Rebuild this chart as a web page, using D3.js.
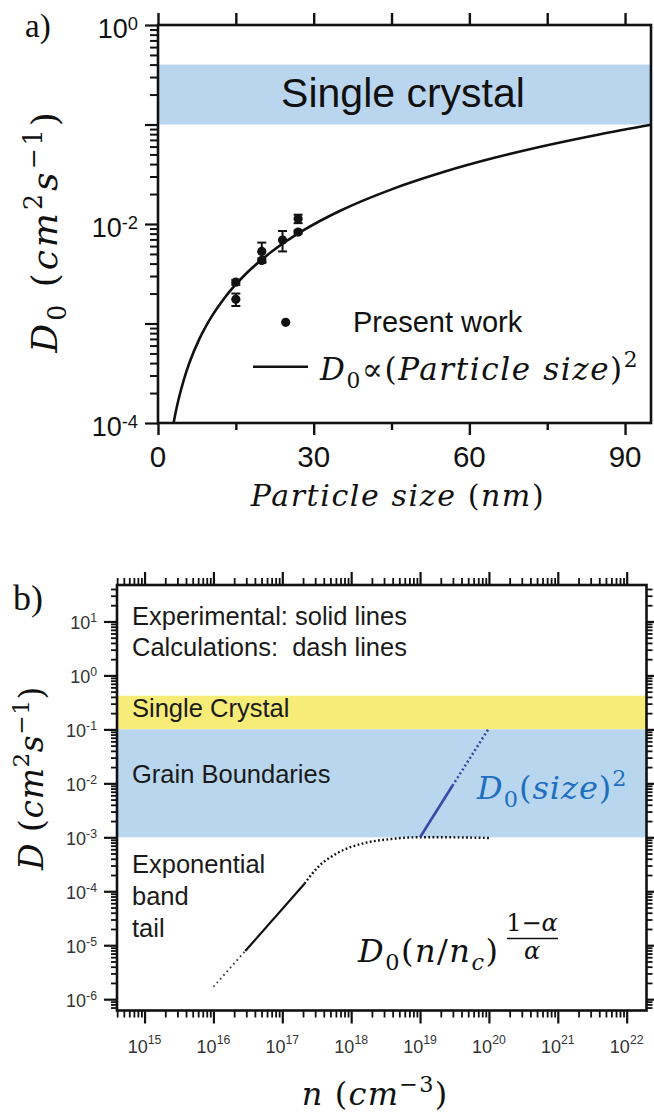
<!DOCTYPE html>
<html>
<head>
<meta charset="utf-8">
<script src="https://cdn.jsdelivr.net/npm/d3@7"></script>
<style>
  html, body { margin: 0; padding: 0; background: #fff; }
  svg { display: block; }
  text { white-space: pre; }
</style>
</head>
<body>
<svg id="fig" width="654" height="1113"></svg>
<script>
// ---------------- Panel a: diffusion coefficient vs particle size ----------------
const sizeNm   = [15, 15, 20, 20, 24, 27, 27];
const diffA    = [2.6e-3, 1.75e-3, 5.3e-3, 4.3e-3, 6.9e-3, 8.3e-3, 1.13e-2];
const diffAErr = [0.15e-3, 0.25e-3, 1.2e-3, 0.2e-3, 1.6e-3, 0.3e-3, 1.1e-3];

// D0 ∝ (particle size)^2 trend line
const fitSize = [3, 3.5, 4, 5, 6, 8, 10, 13, 17, 22, 28, 35, 45, 55, 65, 75, 85, 95];
const fitD    = [1.0e-4, 1.35e-4, 1.76e-4, 2.75e-4, 3.96e-4, 7.04e-4, 1.1e-3, 1.86e-3, 3.18e-3,
                 5.32e-3, 8.62e-3, 1.35e-2, 2.23e-2, 3.33e-2, 4.65e-2, 6.19e-2, 7.95e-2, 9.93e-2];

const bandSingleA = [0.1, 0.4];
const xTicksA      = [0, 30, 60, 90];
const xMinorA      = [15, 45, 75];
const yLabelExpA   = [0, -2, -4];

// ---------------- Panel b: diffusion coefficient vs carrier density ----------------
const bandSingleB = [0.1, 0.42];
const bandGrainB  = [1e-3, 0.1];

// exponential band tail: calculated (dotted) and experimental (solid) parts
const tailCalcN  = [1e16, 2.9e16];
const tailCalcD  = [1.7e-6, 7.8e-6];
const tailExpN   = [2.9e16, 2.1e17];
const tailExpD   = [7.8e-6, 1.38e-4];
const tailKneeN  = [2.1e17, 3.2e17, 6.3e17, 1.55e18, 3.8e18, 9.1e18, 2.5e19, 1e20];
const tailKneeD  = [1.38e-4, 2.7e-4, 5.1e-4, 7.8e-4, 9.3e-4, 1.0e-3, 1.0e-3, 0.97e-3];

// grain boundary regime, D0 (size)^2
const gbExpN  = [1e19, 2.95e19];
const gbExpD  = [1e-3, 9e-3];
const gbCalcN = [2.95e19, 1e20];
const gbCalcD = [9e-3, 1.05e-1];

const xLabelExpB = [15, 16, 17, 18, 19, 20, 21, 22];
const yLabelExpB = [-6, -5, -4, -3, -2, -1, 0, 1];

// ---------------- shared helpers ----------------
const SANS = "'Liberation Sans', Arial, sans-serif";
const MATH = "'DejaVu Serif', serif";
const SERIF = "'Liberation Serif', 'Times New Roman', serif";
const INK = "#111";
const svg = d3.select("#fig");

function logTicks(domain) {
  const lo = Math.floor(Math.log10(domain[0])), hi = Math.ceil(Math.log10(domain[1]));
  const major = [], minor = [];
  for (let e = lo; e <= hi; e++) {
    for (let m = 1; m <= 9; m++) {
      const v = m * Math.pow(10, e);
      if (v < domain[0] * 0.999 || v > domain[1] * 1.001) continue;
      (m === 1 ? major : minor).push(v);
    }
  }
  return { major, minor };
}

function tickAxis(g, axis, tx, ty, width) {
  const a = g.append("g").attr("transform", `translate(${tx},${ty})`).call(axis);
  a.select(".domain").remove();
  a.selectAll(".tick line").attr("stroke", INK).attr("stroke-width", width);
  a.selectAll(".tick text").remove();
  return a;
}

// text made of italic / upright / sub / superscript runs
function mathText(sel, parts, size, spacing) {
  const t = sel.append("text").attr("font-family", MATH).attr("font-size", size)
    .attr("letter-spacing", spacing || 0);
  let off = 0;
  parts.forEach(p => {
    let target = 0, fs = size;
    if (p.sub) { target = 0.26 * size; fs = 0.7 * size; }
    if (p.sup) { target = -0.42 * size; fs = 0.7 * size; }
    t.append("tspan").text(p.t)
      .attr("font-size", fs)
      .attr("dy", target - off)
      .attr("font-style", p.up ? "normal" : "italic");
    off = target;
  });
  return t;
}

function powerLabel(g, x, y, exp, size, anchor, supShift, color) {
  const t = g.append("text").attr("x", x).attr("y", y)
    .attr("font-family", SANS).attr("font-size", size)
    .attr("text-anchor", anchor).attr("fill", color || INK);
  t.append("tspan").text("10");
  t.append("tspan").text(String(exp)).attr("font-size", size * 0.68).attr("dy", -supShift);
  return t;
}

// ================= Panel a =================
const A = { left: 158, right: 651, top: 25, bottom: 423 };
const xA = d3.scaleLinear().domain([0, 95]).range([A.left, A.right]);
const yA = d3.scaleLog().domain([1e-4, 1]).range([A.bottom, A.top]);
const ga = svg.append("g");

ga.append("rect")
  .attr("x", xA(0)).attr("width", xA(95) - xA(0))
  .attr("y", yA(bandSingleA[1])).attr("height", yA(bandSingleA[0]) - yA(bandSingleA[1]))
  .attr("fill", "#bad6ef");
ga.append("text").text("Single crystal")
  .attr("x", 403).attr("y", 107).attr("text-anchor", "middle")
  .attr("font-family", SANS).attr("font-size", 41).attr("fill", INK);

const fitLine = d3.line().x(d => xA(d[0])).y(d => yA(d[1])).curve(d3.curveMonotoneX);
ga.append("path").datum(d3.zip(fitSize, fitD)).attr("d", fitLine)
  .attr("fill", "none").attr("stroke", INK).attr("stroke-width", 2.6);

const pts = d3.zip(sizeNm, diffA, diffAErr);
const eb = ga.append("g").attr("stroke", INK).attr("stroke-width", 2);
pts.forEach(([s, d, e]) => {
  const x = xA(s), y1 = yA(d - e), y2 = yA(d + e);
  eb.append("line").attr("x1", x).attr("x2", x).attr("y1", y1).attr("y2", y2);
  eb.append("line").attr("x1", x - 4.5).attr("x2", x + 4.5).attr("y1", y1).attr("y2", y1);
  eb.append("line").attr("x1", x - 4.5).attr("x2", x + 4.5).attr("y1", y2).attr("y2", y2);
});
ga.selectAll("circle.pt").data(pts).join("circle").attr("class", "pt")
  .attr("cx", d => xA(d[0])).attr("cy", d => yA(d[1])).attr("r", 4.6).attr("fill", INK);

const tA = logTicks(yA.domain());
tickAxis(ga, d3.axisLeft(yA).tickValues(tA.major).tickSize(13).tickFormat(""), A.left, 0, 2.2);
tickAxis(ga, d3.axisLeft(yA).tickValues(tA.minor).tickSize(8).tickFormat(""), A.left, 0, 2);
tickAxis(ga, d3.axisBottom(xA).tickValues(xTicksA).tickSize(12).tickFormat(""), 0, A.bottom, 2.4);
tickAxis(ga, d3.axisBottom(xA).tickValues(xMinorA).tickSize(7).tickFormat(""), 0, A.bottom, 2.4);
tickAxis(ga, d3.axisTop(xA).tickValues(xTicksA.concat(xMinorA)).tickSize(12).tickFormat(""), 0, A.top, 2.4);

ga.append("rect").attr("x", A.left).attr("y", A.top)
  .attr("width", A.right - A.left).attr("height", A.bottom - A.top)
  .attr("fill", "none").attr("stroke", INK).attr("stroke-width", 2.6);

xTicksA.forEach(v => {
  ga.append("text").text(v).attr("x", xA(v)).attr("y", 467).attr("text-anchor", "middle")
    .attr("font-family", SANS).attr("font-size", 29.5).attr("fill", INK);
});
yLabelExpA.forEach(e => powerLabel(ga, 138, yA(Math.pow(10, e)) + 13, e, 27, "end", 8.5));

// legend
ga.append("circle").attr("cx", 285.7).attr("cy", 322.3).attr("r", 4.6).attr("fill", INK);
ga.append("text").text("Present work").attr("x", 353).attr("y", 332)
  .attr("font-family", SANS).attr("font-size", 29).attr("fill", INK);
ga.append("line").attr("x1", 253).attr("x2", 308).attr("y1", 366.7).attr("y2", 366.7)
  .attr("stroke", INK).attr("stroke-width", 2.6);
mathText(ga, [{ t: "D" }, { t: "0", sub: true, up: true }, { t: "∝(", up: true },
  { t: "Particle size" }, { t: ")", up: true }, { t: "2", sup: true, up: true }], 31, 1.6)
  .attr("x", 320).attr("y", 380).attr("fill", INK);

// axis titles
mathText(ga, [{ t: "Particle size " }, { t: "(", up: true }, { t: "nm" }, { t: ")", up: true }], 30, 1.6)
  .attr("x", 398).attr("y", 506).attr("text-anchor", "middle").attr("fill", INK);
mathText(ga, [{ t: "D" }, { t: "0", sub: true, up: true }, { t: " (", up: true }, { t: "cm" },
  { t: "2", sup: true, up: true }, { t: "s" }, { t: "−1", sup: true, up: true }, { t: ")", up: true }], 36, 3)
  .attr("transform", "translate(57,231) rotate(-90)").attr("text-anchor", "middle").attr("fill", INK);

ga.append("text").text("a)").attr("x", 25).attr("y", 37)
  .attr("font-family", SERIF).attr("font-size", 33).attr("fill", INK);

// ================= Panel b =================
const B = { left: 117, right: 646.5, top: 585, bottom: 1010.5 };
const xB = d3.scaleLog().domain([3.98e14, 1.94e22]).range([B.left, B.right]);
const yB = d3.scaleLog().domain([6.17e-7, 47.4]).range([B.bottom, B.top]);
const gb = svg.append("g");

gb.append("rect").attr("x", B.left).attr("width", B.right - B.left)
  .attr("y", yB(bandSingleB[1])).attr("height", yB(bandSingleB[0]) - yB(bandSingleB[1]))
  .attr("fill", "#f7ec78");
gb.append("rect").attr("x", B.left).attr("width", B.right - B.left)
  .attr("y", yB(bandGrainB[1])).attr("height", yB(bandGrainB[0]) - yB(bandGrainB[1]))
  .attr("fill", "#b9d6ef");

const lineB = d3.line().x(d => xB(d[0])).y(d => yB(d[1]));
const curveB = d3.line().x(d => xB(d[0])).y(d => yB(d[1])).curve(d3.curveMonotoneX);

gb.append("path").datum(d3.zip(tailCalcN, tailCalcD)).attr("d", lineB)
  .attr("fill", "none").attr("stroke", "#333").attr("stroke-width", 1.8).attr("stroke-dasharray", "1.6,3.4");
gb.append("path").datum(d3.zip(tailExpN, tailExpD)).attr("d", lineB)
  .attr("fill", "none").attr("stroke", INK).attr("stroke-width", 2.2);
gb.append("path").datum(d3.zip(tailKneeN, tailKneeD)).attr("d", curveB)
  .attr("fill", "none").attr("stroke", INK).attr("stroke-width", 2.4).attr("stroke-dasharray", "1.8,2.4");
gb.append("path").datum(d3.zip(gbExpN, gbExpD)).attr("d", lineB)
  .attr("fill", "none").attr("stroke", "#3a48a8").attr("stroke-width", 2.6);
gb.append("path").datum(d3.zip(gbCalcN, gbCalcD)).attr("d", lineB)
  .attr("fill", "none").attr("stroke", "#3a48a8").attr("stroke-width", 2.6).attr("stroke-dasharray", "2,2.6");

const txB = logTicks(xB.domain()), tyB = logTicks(yB.domain());
tickAxis(gb, d3.axisLeft(yB).tickValues(tyB.major).tickSize(13).tickFormat(""), B.left, 0, 2.2);
tickAxis(gb, d3.axisLeft(yB).tickValues(tyB.minor).tickSize(6).tickFormat(""), B.left, 0, 1.8);
tickAxis(gb, d3.axisRight(yB).tickValues(tyB.major).tickSize(13).tickFormat(""), B.right, 0, 2.2);
tickAxis(gb, d3.axisRight(yB).tickValues(tyB.minor).tickSize(6).tickFormat(""), B.right, 0, 1.8);
tickAxis(gb, d3.axisBottom(xB).tickValues(txB.major).tickSize(13).tickFormat(""), 0, B.bottom, 2.2);
tickAxis(gb, d3.axisBottom(xB).tickValues(txB.minor).tickSize(7).tickFormat(""), 0, B.bottom, 1.8);
tickAxis(gb, d3.axisTop(xB).tickValues(txB.major).tickSize(13).tickFormat(""), 0, B.top, 2.2);
tickAxis(gb, d3.axisTop(xB).tickValues(txB.minor).tickSize(7).tickFormat(""), 0, B.top, 1.8);

gb.append("rect").attr("x", B.left).attr("y", B.top)
  .attr("width", B.right - B.left).attr("height", B.bottom - B.top)
  .attr("fill", "none").attr("stroke", INK).attr("stroke-width", 2.6);

xLabelExpB.forEach(e => powerLabel(gb, xB(Math.pow(10, e)), 1052.5, e, 18, "middle", 9, "#333"));
yLabelExpB.forEach(e => powerLabel(gb, 97, yB(Math.pow(10, e)) + 8, e, 18, "end", 7, "#333"));

const noteB = [
  ["Experimental: solid lines", 625],
  ["Calculations:  dash lines", 656],
  ["Single Crystal", 716.7],
  ["Grain Boundaries", 783.3],
  ["Exponential", 873.3],
  ["band", 905],
  ["tail", 936.7]
];
noteB.forEach(([s, y]) => {
  gb.append("text").text(s).attr("x", 132).attr("y", y)
    .attr("font-family", SANS).attr("font-size", 25.5).attr("fill", "#1a1a1a");
});

mathText(gb, [{ t: "D" }, { t: "0", sub: true, up: true }, { t: "(", up: true }, { t: "size" },
  { t: ")", up: true }, { t: "2", sup: true, up: true }], 32, 1)
  .attr("x", 477).attr("y", 799).attr("fill", "#1f6fc0");

mathText(gb, [{ t: "D" }, { t: "0", sub: true, up: true }, { t: "(", up: true }, { t: "n" },
  { t: "/", up: true }, { t: "n" }, { t: "c", sub: true }, { t: ")", up: true }], 32, 1.5)
  .attr("x", 358).attr("y", 962).attr("fill", INK);
mathText(gb, [{ t: "1−", up: true }, { t: "α" }], 24)
  .attr("x", 532).attr("y", 931).attr("text-anchor", "middle").attr("fill", INK);
gb.append("line").attr("x1", 507).attr("x2", 558).attr("y1", 938.5).attr("y2", 938.5)
  .attr("stroke", INK).attr("stroke-width", 1.4);
mathText(gb, [{ t: "α" }], 24)
  .attr("x", 532).attr("y", 958.5).attr("text-anchor", "middle").attr("fill", INK);

mathText(gb, [{ t: "n " }, { t: "(", up: true }, { t: "cm" }, { t: "−3", sup: true, up: true }, { t: ")", up: true }], 32, 1.2)
  .attr("x", 375).attr("y", 1105).attr("text-anchor", "middle").attr("fill", INK);
mathText(gb, [{ t: "D " }, { t: "(", up: true }, { t: "cm" }, { t: "2", sup: true, up: true },
  { t: "s" }, { t: "−1", sup: true, up: true }, { t: ")", up: true }], 33, 0.6)
  .attr("transform", "translate(43,778) rotate(-90)").attr("text-anchor", "middle").attr("fill", INK);

gb.append("text").text("b)").attr("x", 13).attr("y", 610)
  .attr("font-family", SERIF).attr("font-size", 36).attr("fill", INK);
</script>
</body>
</html>
